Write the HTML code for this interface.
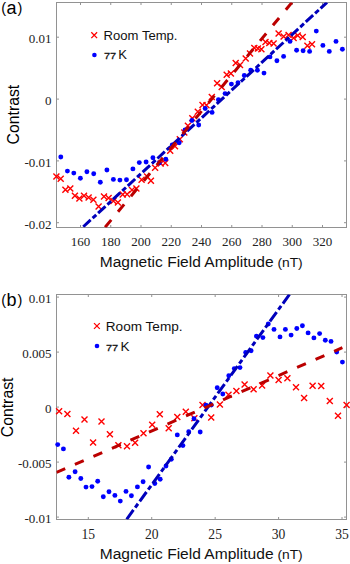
<!DOCTYPE html>
<html><head><meta charset="utf-8"><style>
html,body{margin:0;padding:0;background:#fff;}
body{width:350px;height:564px;overflow:hidden;}
svg{display:block;}
.tk{font-family:"Liberation Serif",serif;font-size:13px;fill:#222;}
.lg{font-family:"Liberation Sans",sans-serif;font-size:12.3px;fill:#111;}
.sm{font-size:9.7px;stroke:#111;stroke-width:0.25px;}
.pl{font-family:"Liberation Sans",sans-serif;font-size:16.5px;fill:#000;}
.yl{font-family:"Liberation Sans",sans-serif;font-size:15.8px;fill:#000;}
.xl{font-family:"Liberation Sans",sans-serif;font-size:15.3px;fill:#111;}
.nt{font-size:12.8px;}
</style></head><body>
<svg width="350" height="564" viewBox="0 0 350 564">
<rect width="350" height="564" fill="#fff"/>
<rect x="56.5" y="2.5" width="290.0" height="225.0" fill="none" stroke="#929292" stroke-width="1"/>
<path d="M80.5 227.5V225.0M80.5 2.5V5.0" stroke="#929292" stroke-width="1"/>
<path d="M110.75 227.5V225.0M110.75 2.5V5.0" stroke="#929292" stroke-width="1"/>
<path d="M141.0 227.5V225.0M141.0 2.5V5.0" stroke="#929292" stroke-width="1"/>
<path d="M171.25 227.5V225.0M171.25 2.5V5.0" stroke="#929292" stroke-width="1"/>
<path d="M201.5 227.5V225.0M201.5 2.5V5.0" stroke="#929292" stroke-width="1"/>
<path d="M231.75 227.5V225.0M231.75 2.5V5.0" stroke="#929292" stroke-width="1"/>
<path d="M262.0 227.5V225.0M262.0 2.5V5.0" stroke="#929292" stroke-width="1"/>
<path d="M292.25 227.5V225.0M292.25 2.5V5.0" stroke="#929292" stroke-width="1"/>
<path d="M322.5 227.5V225.0M322.5 2.5V5.0" stroke="#929292" stroke-width="1"/>
<path d="M56.5 37.2H59.0M346.5 37.2H344.0" stroke="#929292" stroke-width="1"/>
<path d="M56.5 99.1H59.0M346.5 99.1H344.0" stroke="#929292" stroke-width="1"/>
<path d="M56.5 160.9H59.0M346.5 160.9H344.0" stroke="#929292" stroke-width="1"/>
<path d="M56.5 222.7H59.0M346.5 222.7H344.0" stroke="#929292" stroke-width="1"/>
<text x="80.5" y="246.0" class="tk" style="font-size:13px" text-anchor="middle">160</text>
<text x="110.75" y="246.0" class="tk" style="font-size:13px" text-anchor="middle">180</text>
<text x="141.0" y="246.0" class="tk" style="font-size:13px" text-anchor="middle">200</text>
<text x="171.25" y="246.0" class="tk" style="font-size:13px" text-anchor="middle">220</text>
<text x="201.5" y="246.0" class="tk" style="font-size:13px" text-anchor="middle">240</text>
<text x="231.75" y="246.0" class="tk" style="font-size:13px" text-anchor="middle">260</text>
<text x="262.0" y="246.0" class="tk" style="font-size:13px" text-anchor="middle">280</text>
<text x="292.25" y="246.0" class="tk" style="font-size:13px" text-anchor="middle">300</text>
<text x="322.5" y="246.0" class="tk" style="font-size:13px" text-anchor="middle">320</text>
<text x="51.6" y="43.1" class="tk" text-anchor="end">0.01</text>
<text x="51.6" y="105.0" class="tk" text-anchor="end">0</text>
<text x="51.6" y="166.8" class="tk" text-anchor="end">-0.01</text>
<text x="51.6" y="228.6" class="tk" text-anchor="end">-0.02</text>
<rect x="56.5" y="294.5" width="290.0" height="225.0" fill="none" stroke="#929292" stroke-width="1"/>
<path d="M88.3 519.5V517.0M88.3 294.5V297.0" stroke="#929292" stroke-width="1"/>
<path d="M151.73 519.5V517.0M151.73 294.5V297.0" stroke="#929292" stroke-width="1"/>
<path d="M215.16 519.5V517.0M215.16 294.5V297.0" stroke="#929292" stroke-width="1"/>
<path d="M278.59 519.5V517.0M278.59 294.5V297.0" stroke="#929292" stroke-width="1"/>
<path d="M342.02 519.5V517.0M342.02 294.5V297.0" stroke="#929292" stroke-width="1"/>
<path d="M56.5 297.1H59.0M346.5 297.1H344.0" stroke="#929292" stroke-width="1"/>
<path d="M56.5 352.1H59.0M346.5 352.1H344.0" stroke="#929292" stroke-width="1"/>
<path d="M56.5 407.1H59.0M346.5 407.1H344.0" stroke="#929292" stroke-width="1"/>
<path d="M56.5 462.1H59.0M346.5 462.1H344.0" stroke="#929292" stroke-width="1"/>
<path d="M56.5 517.1H59.0M346.5 517.1H344.0" stroke="#929292" stroke-width="1"/>
<text x="88.3" y="539.0" class="tk" style="font-size:13.6px" text-anchor="middle">15</text>
<text x="151.73" y="539.0" class="tk" style="font-size:13.6px" text-anchor="middle">20</text>
<text x="215.16" y="539.0" class="tk" style="font-size:13.6px" text-anchor="middle">25</text>
<text x="278.59" y="539.0" class="tk" style="font-size:13.6px" text-anchor="middle">30</text>
<text x="342.02" y="539.0" class="tk" style="font-size:13.6px" text-anchor="middle">35</text>
<text x="51.6" y="302.70000000000005" class="tk" text-anchor="end">0.01</text>
<text x="51.6" y="357.70000000000005" class="tk" text-anchor="end">0.005</text>
<text x="51.6" y="412.70000000000005" class="tk" text-anchor="end">0</text>
<text x="51.6" y="467.70000000000005" class="tk" text-anchor="end">-0.005</text>
<text x="51.6" y="522.7" class="tk" text-anchor="end">-0.01</text>
<clipPath id="ca"><rect x="56.5" y="2.5" width="290.0" height="225.0"/></clipPath>
<clipPath id="cb"><rect x="56.5" y="294.5" width="290.0" height="225.0"/></clipPath>
<path d="M53.40 173.40L59.40 179.40M53.40 179.40L59.40 173.40" stroke="#ff0000" stroke-width="1.4" fill="none"/><path d="M57.70 175.80L63.70 181.80M57.70 181.80L63.70 175.80" stroke="#ff0000" stroke-width="1.4" fill="none"/><path d="M62.40 186.80L68.40 192.80M62.40 192.80L68.40 186.80" stroke="#ff0000" stroke-width="1.4" fill="none"/><path d="M67.30 185.40L73.30 191.40M67.30 191.40L73.30 185.40" stroke="#ff0000" stroke-width="1.4" fill="none"/><path d="M71.90 192.80L77.90 198.80M71.90 198.80L77.90 192.80" stroke="#ff0000" stroke-width="1.4" fill="none"/><path d="M76.40 195.60L82.40 201.60M76.40 201.60L82.40 195.60" stroke="#ff0000" stroke-width="1.4" fill="none"/><path d="M81.00 192.80L87.00 198.80M81.00 198.80L87.00 192.80" stroke="#ff0000" stroke-width="1.4" fill="none"/><path d="M85.60 194.40L91.60 200.40M85.60 200.40L91.60 194.40" stroke="#ff0000" stroke-width="1.4" fill="none"/><path d="M90.40 196.70L96.40 202.70M90.40 202.70L96.40 196.70" stroke="#ff0000" stroke-width="1.4" fill="none"/><path d="M95.60 203.60L101.60 209.60M95.60 209.60L101.60 203.60" stroke="#ff0000" stroke-width="1.4" fill="none"/><path d="M101.00 193.40L107.00 199.40M101.00 199.40L107.00 193.40" stroke="#ff0000" stroke-width="1.4" fill="none"/><path d="M105.60 194.90L111.60 200.90M105.60 200.90L111.60 194.90" stroke="#ff0000" stroke-width="1.4" fill="none"/><path d="M110.40 198.00L116.40 204.00M110.40 204.00L116.40 198.00" stroke="#ff0000" stroke-width="1.4" fill="none"/><path d="M114.90 199.60L120.90 205.60M114.90 205.60L120.90 199.60" stroke="#ff0000" stroke-width="1.4" fill="none"/><path d="M119.70 191.50L125.70 197.50M119.70 197.50L125.70 191.50" stroke="#ff0000" stroke-width="1.4" fill="none"/><path d="M124.10 191.30L130.10 197.30M124.10 197.30L130.10 191.30" stroke="#ff0000" stroke-width="1.4" fill="none"/><path d="M129.00 187.00L135.00 193.00M129.00 193.00L135.00 187.00" stroke="#ff0000" stroke-width="1.4" fill="none"/><path d="M133.40 185.50L139.40 191.50M133.40 191.50L139.40 185.50" stroke="#ff0000" stroke-width="1.4" fill="none"/><path d="M138.60 176.80L144.60 182.80M138.60 182.80L144.60 176.80" stroke="#ff0000" stroke-width="1.4" fill="none"/><path d="M144.10 173.40L150.10 179.40M144.10 179.40L150.10 173.40" stroke="#ff0000" stroke-width="1.4" fill="none"/><path d="M147.90 177.70L153.90 183.70M147.90 183.70L153.90 177.70" stroke="#ff0000" stroke-width="1.4" fill="none"/><path d="M152.10 164.80L158.10 170.80M152.10 170.80L158.10 164.80" stroke="#ff0000" stroke-width="1.4" fill="none"/><path d="M157.70 160.60L163.70 166.60M157.70 166.60L163.70 160.60" stroke="#ff0000" stroke-width="1.4" fill="none"/><path d="M162.20 159.90L168.20 165.90M162.20 165.90L168.20 159.90" stroke="#ff0000" stroke-width="1.4" fill="none"/><path d="M167.20 147.70L173.20 153.70M167.20 153.70L173.20 147.70" stroke="#ff0000" stroke-width="1.4" fill="none"/><path d="M172.00 143.20L178.00 149.20M172.00 149.20L178.00 143.20" stroke="#ff0000" stroke-width="1.4" fill="none"/><path d="M176.80 136.20L182.80 142.20M176.80 142.20L182.80 136.20" stroke="#ff0000" stroke-width="1.4" fill="none"/><path d="M181.30 129.60L187.30 135.60M181.30 135.60L187.30 129.60" stroke="#ff0000" stroke-width="1.4" fill="none"/><path d="M184.90 122.80L190.90 128.80M184.90 128.80L190.90 122.80" stroke="#ff0000" stroke-width="1.4" fill="none"/><path d="M189.30 115.30L195.30 121.30M189.30 121.30L195.30 115.30" stroke="#ff0000" stroke-width="1.4" fill="none"/><path d="M194.80 108.80L200.80 114.80M194.80 114.80L200.80 108.80" stroke="#ff0000" stroke-width="1.4" fill="none"/><path d="M199.50 102.00L205.50 108.00M199.50 108.00L205.50 102.00" stroke="#ff0000" stroke-width="1.4" fill="none"/><path d="M203.50 102.20L209.50 108.20M203.50 108.20L209.50 102.20" stroke="#ff0000" stroke-width="1.4" fill="none"/><path d="M208.80 94.00L214.80 100.00M208.80 100.00L214.80 94.00" stroke="#ff0000" stroke-width="1.4" fill="none"/><path d="M214.10 80.30L220.10 86.30M214.10 86.30L220.10 80.30" stroke="#ff0000" stroke-width="1.4" fill="none"/><path d="M218.70 84.00L224.70 90.00M218.70 90.00L224.70 84.00" stroke="#ff0000" stroke-width="1.4" fill="none"/><path d="M223.70 71.80L229.70 77.80M223.70 77.80L229.70 71.80" stroke="#ff0000" stroke-width="1.4" fill="none"/><path d="M227.90 70.60L233.90 76.60M227.90 76.60L233.90 70.60" stroke="#ff0000" stroke-width="1.4" fill="none"/><path d="M232.70 59.90L238.70 65.90M232.70 65.90L238.70 59.90" stroke="#ff0000" stroke-width="1.4" fill="none"/><path d="M237.00 62.00L243.00 68.00M237.00 68.00L243.00 62.00" stroke="#ff0000" stroke-width="1.4" fill="none"/><path d="M242.70 55.60L248.70 61.60M242.70 61.60L248.70 55.60" stroke="#ff0000" stroke-width="1.4" fill="none"/><path d="M247.00 50.60L253.00 56.60M247.00 56.60L253.00 50.60" stroke="#ff0000" stroke-width="1.4" fill="none"/><path d="M251.30 44.90L257.30 50.90M251.30 50.90L257.30 44.90" stroke="#ff0000" stroke-width="1.4" fill="none"/><path d="M254.90 45.60L260.90 51.60M254.90 51.60L260.90 45.60" stroke="#ff0000" stroke-width="1.4" fill="none"/><path d="M258.40 46.30L264.40 52.30M258.40 52.30L264.40 46.30" stroke="#ff0000" stroke-width="1.4" fill="none"/><path d="M262.50 39.10L268.50 45.10M262.50 45.10L268.50 39.10" stroke="#ff0000" stroke-width="1.4" fill="none"/><path d="M266.30 39.90L272.30 45.90M266.30 45.90L272.30 39.90" stroke="#ff0000" stroke-width="1.4" fill="none"/><path d="M270.60 40.60L276.60 46.60M270.60 46.60L276.60 40.60" stroke="#ff0000" stroke-width="1.4" fill="none"/><path d="M275.60 30.60L281.60 36.60M275.60 36.60L281.60 30.60" stroke="#ff0000" stroke-width="1.4" fill="none"/><path d="M280.60 33.40L286.60 39.40M280.60 39.40L286.60 33.40" stroke="#ff0000" stroke-width="1.4" fill="none"/><path d="M285.60 32.00L291.60 38.00M285.60 38.00L291.60 32.00" stroke="#ff0000" stroke-width="1.4" fill="none"/><path d="M290.60 34.90L296.60 40.90M290.60 40.90L296.60 34.90" stroke="#ff0000" stroke-width="1.4" fill="none"/><path d="M294.70 32.40L300.70 38.40M294.70 38.40L300.70 32.40" stroke="#ff0000" stroke-width="1.4" fill="none"/><path d="M299.70 34.10L305.70 40.10M299.70 40.10L305.70 34.10" stroke="#ff0000" stroke-width="1.4" fill="none"/><path d="M304.40 42.70L310.40 48.70M304.40 48.70L310.40 42.70" stroke="#ff0000" stroke-width="1.4" fill="none"/><path d="M309.00 41.30L315.00 47.30M309.00 47.30L315.00 41.30" stroke="#ff0000" stroke-width="1.4" fill="none"/><circle cx="60.8" cy="157" r="2.45" fill="#0000ff"/><circle cx="67.4" cy="171.1" r="2.45" fill="#0000ff"/><circle cx="73.8" cy="173.1" r="2.45" fill="#0000ff"/><circle cx="80.4" cy="178.3" r="2.45" fill="#0000ff"/><circle cx="86.9" cy="171.7" r="2.45" fill="#0000ff"/><circle cx="93.7" cy="173.7" r="2.45" fill="#0000ff"/><circle cx="100.3" cy="182.3" r="2.45" fill="#0000ff"/><circle cx="106.9" cy="170" r="2.45" fill="#0000ff"/><circle cx="113.4" cy="179.4" r="2.45" fill="#0000ff"/><circle cx="119.9" cy="180.1" r="2.45" fill="#0000ff"/><circle cx="126.5" cy="179.7" r="2.45" fill="#0000ff"/><circle cx="132.9" cy="168.9" r="2.45" fill="#0000ff"/><circle cx="139.3" cy="162.6" r="2.45" fill="#0000ff"/><circle cx="146.1" cy="162" r="2.45" fill="#0000ff"/><circle cx="152.9" cy="157.7" r="2.45" fill="#0000ff"/><circle cx="159.3" cy="162.9" r="2.45" fill="#0000ff"/><circle cx="165.8" cy="159.2" r="2.45" fill="#0000ff"/><circle cx="172.2" cy="145" r="2.45" fill="#0000ff"/><circle cx="179.2" cy="142.8" r="2.45" fill="#0000ff"/><circle cx="185" cy="130" r="2.45" fill="#0000ff"/><circle cx="191.9" cy="120.5" r="2.45" fill="#0000ff"/><circle cx="198.7" cy="125" r="2.45" fill="#0000ff"/><circle cx="205.2" cy="108.5" r="2.45" fill="#0000ff"/><circle cx="212.1" cy="112.4" r="2.45" fill="#0000ff"/><circle cx="218.4" cy="99.7" r="2.45" fill="#0000ff"/><circle cx="225.1" cy="93.6" r="2.45" fill="#0000ff"/><circle cx="231.4" cy="84.1" r="2.45" fill="#0000ff"/><circle cx="238" cy="82.8" r="2.45" fill="#0000ff"/><circle cx="244.3" cy="75.5" r="2.45" fill="#0000ff"/><circle cx="250.7" cy="70.3" r="2.45" fill="#0000ff"/><circle cx="257.4" cy="70.3" r="2.45" fill="#0000ff"/><circle cx="264" cy="73.1" r="2.45" fill="#0000ff"/><circle cx="270" cy="56.9" r="2.45" fill="#0000ff"/><circle cx="276.9" cy="60.7" r="2.45" fill="#0000ff"/><circle cx="283.6" cy="56.4" r="2.45" fill="#0000ff"/><circle cx="290" cy="41.4" r="2.45" fill="#0000ff"/><circle cx="296.6" cy="50.3" r="2.45" fill="#0000ff"/><circle cx="303.1" cy="50.7" r="2.45" fill="#0000ff"/><circle cx="309.6" cy="51.4" r="2.45" fill="#0000ff"/><circle cx="316.3" cy="31.1" r="2.45" fill="#0000ff"/><circle cx="322.9" cy="45.4" r="2.45" fill="#0000ff"/><circle cx="329.3" cy="51.4" r="2.45" fill="#0000ff"/><circle cx="336" cy="41.4" r="2.45" fill="#0000ff"/><circle cx="342.4" cy="49.3" r="2.45" fill="#0000ff"/><g clip-path="url(#ca)"><path d="M327 2.4L82.9 227.1" stroke="#0000bb" stroke-width="3" stroke-dasharray="10 2.5 5 2.66" stroke-dashoffset="1.3" fill="none"/><path d="M292 2.4L105 227.4" stroke="#bb0000" stroke-width="3" stroke-dasharray="9.6 10.6" fill="none"/></g>
<path d="M56.10 408.30L62.10 414.30M56.10 414.30L62.10 408.30" stroke="#ff0000" stroke-width="1.4" fill="none"/><path d="M64.40 411.00L70.40 417.00M64.40 417.00L70.40 411.00" stroke="#ff0000" stroke-width="1.4" fill="none"/><path d="M73.00 427.70L79.00 433.70M73.00 433.70L79.00 427.70" stroke="#ff0000" stroke-width="1.4" fill="none"/><path d="M81.50 416.60L87.50 422.60M81.50 422.60L87.50 416.60" stroke="#ff0000" stroke-width="1.4" fill="none"/><path d="M90.10 439.40L96.10 445.40M90.10 445.40L96.10 439.40" stroke="#ff0000" stroke-width="1.4" fill="none"/><path d="M98.50 418.40L104.50 424.40M98.50 424.40L104.50 418.40" stroke="#ff0000" stroke-width="1.4" fill="none"/><path d="M106.90 431.30L112.90 437.30M106.90 437.30L112.90 431.30" stroke="#ff0000" stroke-width="1.4" fill="none"/><path d="M115.40 442.20L121.40 448.20M115.40 448.20L121.40 442.20" stroke="#ff0000" stroke-width="1.4" fill="none"/><path d="M124.00 443.20L130.00 449.20M124.00 449.20L130.00 443.20" stroke="#ff0000" stroke-width="1.4" fill="none"/><path d="M132.10 439.80L138.10 445.80M132.10 445.80L138.10 439.80" stroke="#ff0000" stroke-width="1.4" fill="none"/><path d="M140.50 430.30L146.50 436.30M140.50 436.30L146.50 430.30" stroke="#ff0000" stroke-width="1.4" fill="none"/><path d="M149.20 421.80L155.20 427.80M149.20 427.80L155.20 421.80" stroke="#ff0000" stroke-width="1.4" fill="none"/><path d="M156.80 411.30L162.80 417.30M156.80 417.30L162.80 411.30" stroke="#ff0000" stroke-width="1.4" fill="none"/><path d="M165.70 425.20L171.70 431.20M165.70 431.20L171.70 425.20" stroke="#ff0000" stroke-width="1.4" fill="none"/><path d="M174.30 413.90L180.30 419.90M174.30 419.90L180.30 413.90" stroke="#ff0000" stroke-width="1.4" fill="none"/><path d="M182.80 408.80L188.80 414.80M182.80 414.80L188.80 408.80" stroke="#ff0000" stroke-width="1.4" fill="none"/><path d="M191.40 415.30L197.40 421.30M191.40 421.30L197.40 415.30" stroke="#ff0000" stroke-width="1.4" fill="none"/><path d="M199.50 402.00L205.50 408.00M199.50 408.00L205.50 402.00" stroke="#ff0000" stroke-width="1.4" fill="none"/><path d="M208.20 414.60L214.20 420.60M208.20 420.60L214.20 414.60" stroke="#ff0000" stroke-width="1.4" fill="none"/><path d="M216.90 401.40L222.90 407.40M216.90 407.40L222.90 401.40" stroke="#ff0000" stroke-width="1.4" fill="none"/><path d="M225.50 391.80L231.50 397.80M225.50 397.80L231.50 391.80" stroke="#ff0000" stroke-width="1.4" fill="none"/><path d="M233.40 388.10L239.40 394.10M233.40 394.10L239.40 388.10" stroke="#ff0000" stroke-width="1.4" fill="none"/><path d="M241.60 381.50L247.60 387.50M241.60 387.50L247.60 381.50" stroke="#ff0000" stroke-width="1.4" fill="none"/><path d="M250.60 386.30L256.60 392.30M250.60 392.30L256.60 386.30" stroke="#ff0000" stroke-width="1.4" fill="none"/><path d="M259.10 382.40L265.10 388.40M259.10 388.40L265.10 382.40" stroke="#ff0000" stroke-width="1.4" fill="none"/><path d="M267.40 372.40L273.40 378.40M267.40 378.40L273.40 372.40" stroke="#ff0000" stroke-width="1.4" fill="none"/><path d="M275.60 377.00L281.60 383.00M275.60 383.00L281.60 377.00" stroke="#ff0000" stroke-width="1.4" fill="none"/><path d="M284.40 375.30L290.40 381.30M284.40 381.30L290.40 375.30" stroke="#ff0000" stroke-width="1.4" fill="none"/><path d="M293.00 384.30L299.00 390.30M293.00 390.30L299.00 384.30" stroke="#ff0000" stroke-width="1.4" fill="none"/><path d="M301.10 395.10L307.10 401.10M301.10 401.10L307.10 395.10" stroke="#ff0000" stroke-width="1.4" fill="none"/><path d="M309.60 382.70L315.60 388.70M309.60 388.70L315.60 382.70" stroke="#ff0000" stroke-width="1.4" fill="none"/><path d="M318.20 383.10L324.20 389.10M318.20 389.10L324.20 383.10" stroke="#ff0000" stroke-width="1.4" fill="none"/><path d="M326.80 398.10L332.80 404.10M326.80 404.10L332.80 398.10" stroke="#ff0000" stroke-width="1.4" fill="none"/><path d="M335.00 412.70L341.00 418.70M335.00 418.70L341.00 412.70" stroke="#ff0000" stroke-width="1.4" fill="none"/><path d="M343.60 401.90L349.60 407.90M343.60 407.90L349.60 401.90" stroke="#ff0000" stroke-width="1.4" fill="none"/><circle cx="57.7" cy="444.6" r="2.45" fill="#0000ff"/><circle cx="63.4" cy="448.9" r="2.45" fill="#0000ff"/><circle cx="68.9" cy="477.2" r="2.45" fill="#0000ff"/><circle cx="75.1" cy="471.7" r="2.45" fill="#0000ff"/><circle cx="80.8" cy="478.5" r="2.45" fill="#0000ff"/><circle cx="86" cy="487.1" r="2.45" fill="#0000ff"/><circle cx="92" cy="486.6" r="2.45" fill="#0000ff"/><circle cx="97.7" cy="481.3" r="2.45" fill="#0000ff"/><circle cx="103.3" cy="496.7" r="2.45" fill="#0000ff"/><circle cx="109" cy="491.7" r="2.45" fill="#0000ff"/><circle cx="114.9" cy="495.4" r="2.45" fill="#0000ff"/><circle cx="120.3" cy="501.1" r="2.45" fill="#0000ff"/><circle cx="126" cy="491.4" r="2.45" fill="#0000ff"/><circle cx="131.4" cy="495.7" r="2.45" fill="#0000ff"/><circle cx="137.4" cy="486.9" r="2.45" fill="#0000ff"/><circle cx="143.1" cy="481.7" r="2.45" fill="#0000ff"/><circle cx="148.6" cy="467" r="2.45" fill="#0000ff"/><circle cx="154.8" cy="483.5" r="2.45" fill="#0000ff"/><circle cx="160.2" cy="479.3" r="2.45" fill="#0000ff"/><circle cx="166" cy="466" r="2.45" fill="#0000ff"/><circle cx="171.3" cy="459.3" r="2.45" fill="#0000ff"/><circle cx="177.3" cy="434.9" r="2.45" fill="#0000ff"/><circle cx="182.9" cy="445.6" r="2.45" fill="#0000ff"/><circle cx="188.7" cy="431.8" r="2.45" fill="#0000ff"/><circle cx="194" cy="418.7" r="2.45" fill="#0000ff"/><circle cx="200.2" cy="432" r="2.45" fill="#0000ff"/><circle cx="206" cy="405.2" r="2.45" fill="#0000ff"/><circle cx="211.3" cy="405.1" r="2.45" fill="#0000ff"/><circle cx="217.2" cy="387.7" r="2.45" fill="#0000ff"/><circle cx="222.8" cy="394" r="2.45" fill="#0000ff"/><circle cx="228.8" cy="375.7" r="2.45" fill="#0000ff"/><circle cx="234.3" cy="368.6" r="2.45" fill="#0000ff"/><circle cx="240" cy="367.6" r="2.45" fill="#0000ff"/><circle cx="245.7" cy="352.4" r="2.45" fill="#0000ff"/><circle cx="251.1" cy="350.8" r="2.45" fill="#0000ff"/><circle cx="256.4" cy="336.1" r="2.45" fill="#0000ff"/><circle cx="262.9" cy="337.6" r="2.45" fill="#0000ff"/><circle cx="268.3" cy="324" r="2.45" fill="#0000ff"/><circle cx="274" cy="329.4" r="2.45" fill="#0000ff"/><circle cx="280" cy="336.9" r="2.45" fill="#0000ff"/><circle cx="285.4" cy="329.4" r="2.45" fill="#0000ff"/><circle cx="291.1" cy="335.1" r="2.45" fill="#0000ff"/><circle cx="296.8" cy="328.5" r="2.45" fill="#0000ff"/><circle cx="302.4" cy="325.7" r="2.45" fill="#0000ff"/><circle cx="308.1" cy="332.9" r="2.45" fill="#0000ff"/><circle cx="313.9" cy="337.9" r="2.45" fill="#0000ff"/><circle cx="319.6" cy="333.6" r="2.45" fill="#0000ff"/><circle cx="325.3" cy="340.3" r="2.45" fill="#0000ff"/><circle cx="331" cy="341.4" r="2.45" fill="#0000ff"/><circle cx="336.7" cy="352.1" r="2.45" fill="#0000ff"/><circle cx="342.4" cy="362.1" r="2.45" fill="#0000ff"/><g clip-path="url(#cb)"><path d="M126.7 519.3L289.5 294.4" stroke="#0000bb" stroke-width="3" stroke-dasharray="11.5 3 4.7 3" fill="none"/><path d="M56.4 472.5L342.4 347.7" stroke="#bb0000" stroke-width="3" stroke-dasharray="9.6 10.6" fill="none"/></g>
<path d="M91.30 32.30L97.10 38.10M91.30 38.10L97.10 32.30" stroke="#ff0000" stroke-width="1.3" fill="none"/>
<circle cx="94.4" cy="55" r="2.3" fill="#0000ff"/>
<text transform="translate(103.6 40.2) scale(1.065 1)" class="lg">Room Temp.</text><text transform="translate(103.9 59.2) scale(1.13 1)" class="lg sm">77</text><text transform="translate(118.2 59.2) scale(1.065 1)" class="lg">K</text>
<path d="M94.00 323.10L99.80 328.90M94.00 328.90L99.80 323.10" stroke="#ff0000" stroke-width="1.3" fill="none"/>
<circle cx="97" cy="346" r="2.3" fill="#0000ff"/>
<text transform="translate(105.8 330.9) scale(1.105 1)" class="lg">Room Temp.</text><text transform="translate(105.9 351.0) scale(1.13 1)" class="lg sm">77</text><text transform="translate(120.5 351.0) scale(1.105 1)" class="lg">K</text>
<text y="12.5" class="pl"><tspan x="1.3" style="font-size:14.5px">(</tspan></text><text y="13.7" class="pl"><tspan x="6.6" style="font-size:18px">a</tspan></text><text y="12.5" class="pl"><tspan x="17.6" style="font-size:14.5px">)</tspan></text>
<text y="305.40000000000003" class="pl"><tspan x="1.3" style="font-size:14.5px">(</tspan></text><text y="305.6" class="pl"><tspan x="6.6" style="font-size:18px">b</tspan></text><text y="305.40000000000003" class="pl"><tspan x="17.6" style="font-size:14.5px">)</tspan></text>
<text transform="translate(19 114.6) rotate(-90)" text-anchor="middle" class="yl">Contrast</text>
<text transform="translate(13 407.4) rotate(-90)" text-anchor="middle" class="yl">Contrast</text>
<text transform="translate(99.7 267.0) scale(1.018 1)" class="xl">Magnetic Field Amplitude</text><text transform="translate(277.4 267.0) scale(1.08 1)" class="xl nt">(nT)</text>
<text transform="translate(99.7 558.8) scale(1.018 1)" class="xl">Magnetic Field Amplitude</text><text transform="translate(277.4 558.8) scale(1.08 1)" class="xl nt">(nT)</text>
</svg>
</body></html>
